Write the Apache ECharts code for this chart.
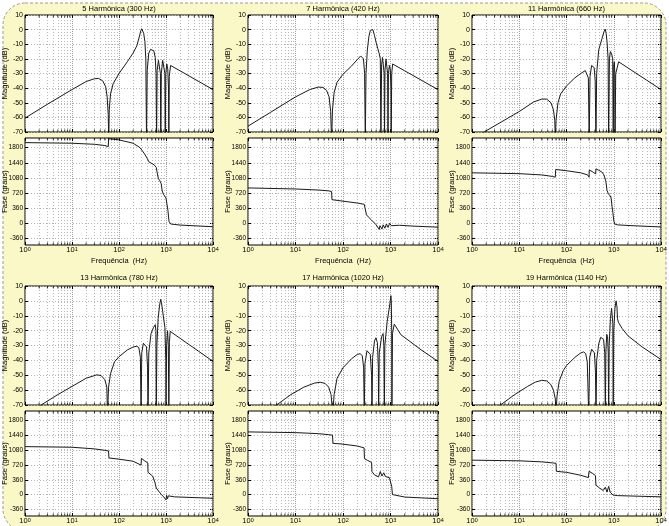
<!DOCTYPE html>
<html><head><meta charset="utf-8">
<script src="https://cdn.jsdelivr.net/npm/echarts@6/dist/echarts.min.js"></script>
<style>html,body{margin:0;padding:0;background:#fff}#c{width:669px;height:526px}</style>
</head><body><div id="c"></div>
<script>
// ---------- DATA ----------
const titles = ['5 Harmônica (300 Hz)','7 Harmônica (420 Hz)','11 Harmônica (660 Hz)',
                '13 Harmônica (780 Hz)','17 Harmônica (1020 Hz)','19 Harmônica (1140 Hz)'];
const decadeTicks = [1,10,100,1000,10000];
const phaseTicks = [-360,0,360,720,1080,1440,1800];
const magTicks = [-70,-60,-50,-40,-30,-20,-10,0,10];

const mag5 = [[1,-60.5],[3,-51],[10,-41],[20,-35.5],[30,-33.6],[37,-33.4],[45,-35],[52,-39],[56,-46],[59,-58],[60.5,-76],[62,-55],[66,-44],[75,-37],[100,-30],[150,-22],[200,-16],[240,-11],[270,-5],[290,-1],[305,0.6],[320,0.3],[335,-2.5],[355,-8],[372,-20],[385,-76],[398,-28],[430,-16],[470,-13.5],[510,-13],[550,-14.5],[590,-19],[615,-30],[630,-76],[648,-28],[690,-21],[730,-22],[760,-30],[775,-76],[795,-30],[850,-21],[900,-22],[945,-30],[965,-76],[990,-30],[1040,-23.5],[1090,-27],[1130,-40],[1150,-76],[1175,-32],[1250,-24.5],[2000,-28.2],[5000,-35.5],[10000,-41]];
const phase5 = [[1,1920],[10,1905],[30,1880],[50,1850],[59,1825],[60.5,2015],[100,1985],[200,1905],[280,1800],[350,1650],[400,1540],[435,1460],[460,1430],[560,1390],[620,1330],[650,1200],[690,1060],[740,1010],[790,940],[830,770],[880,690],[950,660],[1000,600],[1050,450],[1100,300],[1160,40],[1260,-20],[2000,-45],[10000,-85]];

const mag7 = [[1,-66],[3,-56.5],[10,-46],[20,-41],[30,-39.3],[38,-39.5],[45,-41.5],[51,-46],[55,-56],[57.5,-76],[60,-55],[65,-43],[75,-36],[100,-30.5],[150,-25],[200,-20.5],[235,-18],[255,-17.7],[270,-20],[285,-30],[295,-76],[305,-30],[325,-14],[350,-5],[375,-0.5],[400,0.8],[425,0],[460,-4],[500,-9],[540,-13],[580,-16.5],[610,-20],[628,-76],[650,-24],[680,-19],[715,-20],[735,-30],[748,-76],[765,-28],[805,-20],[845,-21],[870,-30],[885,-76],[905,-30],[950,-24.5],[990,-27],[1020,-40],[1035,-76],[1060,-30],[1110,-23.5],[2000,-28.2],[5000,-35.5],[10000,-41]];
const phase7 = [[1,840],[10,815],[30,790],[50,770],[57.5,755],[58.5,560],[100,525],[200,480],[280,450],[305,420],[312,200],[340,150],[395,80],[500,-40],[580,-150],[600,-60],[640,-40],[660,-140],[700,-40],[760,-120],[820,-20],[890,-100],[960,0],[1040,-60],[1120,-35],[1550,-50],[3000,-70],[10000,-95]];

const mag11 = [[1,-75],[1.8,-70],[10,-56],[20,-49.5],[30,-47.5],[38,-47.5],[47,-50],[53,-55],[56.5,-62],[58,-76],[60,-62],[66,-50],[75,-44],[100,-38.5],[150,-33],[200,-30],[250,-28],[275,-28.5],[290,-33],[302,-76],[315,-32],[340,-24.5],[362,-23.3],[385,-26],[405,-35],[420,-76],[435,-30],[480,-14],[520,-10],[565,-6],[620,-1.5],[660,0.3],[690,-2.5],[720,-8],[760,-20],[780,-76],[810,-20],[850,-15],[900,-16.5],[950,-20],[975,-76],[1000,-24],[1030,-22],[1050,-30],[1065,-76],[1100,-30],[1270,-22],[2000,-26.2],[5000,-34.6],[10000,-41]];
const phase11 = [[1,1200],[10,1180],[30,1150],[50,1115],[58,1095],[59,1280],[100,1250],[200,1200],[280,1150],[300,1095],[303,1265],[350,1230],[415,1175],[420,1295],[480,1260],[560,1220],[620,1150],[680,1000],[720,780],[770,700],[840,650],[880,600],[920,400],[960,250],[1000,60],[1050,-20],[1200,-40],[2000,-55],[10000,-90]];

const mag13 = [[1,-78],[2.2,-70],[5,-63],[10,-57.5],[20,-52],[34,-49.7],[42,-50.3],[50,-53],[55,-58],[57,-76],[60,-58],[66,-49],[80,-41],[100,-37.5],[150,-33],[200,-31],[240,-30.5],[265,-31.5],[285,-38],[295,-76],[305,-35],[330,-28.5],[360,-27.5],[385,-31],[405,-45],[415,-76],[430,-35],[480,-22],[540,-18],[590,-16],[610,-20],[620,-76],[640,-30],[680,-12],[730,-3],[770,1],[800,-1],[850,-7],[900,-13],[950,-18],[990,-40],[1000,-76],[1030,-30],[1080,-20],[1120,-30],[1150,-76],[1180,-28],[1230,-20.5],[2000,-25.2],[5000,-34],[10000,-40.7]];
const phase13 = [[1,1165],[10,1150],[30,1110],[50,1075],[60,1060],[61,890],[100,860],[200,810],[295,715],[300,880],[350,820],[410,770],[415,540],[450,500],[520,450],[580,300],[620,160],[700,80],[800,0],[900,-60],[960,-100],[1000,-130],[1030,-20],[1080,-100],[1120,-30],[1180,-60],[1500,-55],[10000,-90]];

const mag17 = [[1,-82],[4,-70],[8,-63],[15,-58],[25,-55.3],[33,-54.7],[42,-55.5],[50,-58],[56,-63],[61,-76],[65,-63],[75,-52],[100,-45],[150,-39],[200,-36],[231,-35.5],[255,-37],[272,-45],[280,-76],[290,-42],[320,-33.5],[346,-32.5],[375,-36],[400,-50],[407,-76],[420,-38],[460,-27],[494,-24.8],[530,-28],[555,-45],[563,-76],[580,-35],[650,-24],[697,-22],[725,-30],[742,-76],[760,-30],[850,-14],[930,-6],[990,0],[1020,3.5],[1040,0],[1060,-20],[1070,-76],[1100,-22],[1200,-15.7],[1400,-19],[1660,-22.8],[2500,-27],[4400,-32.9],[10000,-40.7]];
const phase17 = [[1,1522],[10,1505],[30,1480],[50,1455],[60,1443],[61.5,1245],[100,1225],[200,1180],[278,1135],[283,870],[330,830],[345,800],[400,780],[407,560],[460,480],[560,430],[610,560],[660,450],[720,530],[780,440],[840,430],[950,410],[1000,380],[1060,200],[1100,0],[1200,-40],[2000,-60],[10000,-100]];

const mag19 = [[1,-86],[4,-70],[8,-63],[15,-57.5],[22,-54.6],[30,-53.4],[38,-53.8],[46,-56],[53,-60],[58,-66],[60,-76],[63,-64],[70,-54],[85,-47],[100,-43.5],[150,-38],[200,-35],[231,-34.3],[255,-35.5],[275,-41],[295,-76],[310,-38],[340,-32.5],[363,-32],[390,-35],[410,-48],[421,-76],[435,-40],[480,-29],[530,-24.5],[565,-23.7],[610,-26],[645,-35],[664,-76],[680,-35],[710,-22.5],[740,-24],[765,-35],[780,-76],[800,-30],[850,-12],[900,-5],[930,-5.5],[955,-15],[975,-76],[1000,-20],[1060,-5],[1120,0],[1145,0.5],[1170,-4],[1200,-12],[1260,-14.5],[1500,-18.5],[2000,-23.5],[4000,-31],[10000,-39.4]];
const phase19 = [[1,836],[10,820],[30,795],[50,770],[60,760],[61,566],[100,540],[200,470],[290,412],[300,566],[350,520],[410,460],[420,230],[500,160],[600,100],[640,80],[664,180],[720,60],[780,200],[840,60],[900,40],[960,-10],[1000,-15],[1200,-25],[10000,-55]];

const magSets = [mag5, mag7, mag11, mag13, mag17, mag19];
const phaseSets = [phase5, phase7, phase11, phase13, phase17, phase19];

// ---------- LAYOUT ----------
const FONT = '"Liberation Sans", Arial, sans-serif';
const cols = [{l:25,w:188},{l:248,w:190},{l:472,w:189}];
const rows = [{mt:15,mh:117,pt:138,ph:107,ty:9},{mt:286,mh:119,pt:411,ph:105,ty:278}];
const PH_MIN = -520, PH_MAX = 2030;
const minorF = [];
for (let d = 0; d < 4; d++) for (let k = 2; k <= 9; k++) minorF.push(k * Math.pow(10, d));

const grids = [], xAxes = [], yAxes = [], series = [], graphics = [];
const gridStyle = {color:'#b4b4b4', type:[1,2], width:1};
const txt = {fontFamily: FONT, fontSize: 7.5, color:'#000'};

graphics.push({type:'rect', z:-10, silent:true, shape:{x:3, y:3, width:663, height:528, r:22},
  style:{fill:'#fbf8c8', stroke:'#9a9a9a', lineWidth:1, lineDash:[3,2]}});

function addPlot(left, top, width, height, data, isPhase, xName) {
  const gi = grids.length;
  grids.push({left, top, width, height, show:true, backgroundColor:'#fff', borderColor:'#000', borderWidth:1,
    containLabel:false, outerBoundsMode:'none'});
  const xb = xAxes.length;
  xAxes.push({type:'log', logBase:10, gridIndex:gi, min:1, max:10000, position:'bottom',
    axisLine:{show:false, onZero:false}, axisTick:{inside:true, length:3, lineStyle:{color:'#000'}},
    axisLabel:{show:isPhase, margin:1, formatter: v => '{b|10}{s|' + Math.round(Math.log10(v)) + '}',
      rich:{b:{fontFamily:FONT, fontSize:7.5, lineHeight:8, padding:[4,0,0,0], verticalAlign:'bottom', color:'#000'},
            s:{fontFamily:FONT, fontSize:5.5, lineHeight:6, verticalAlign:'top', color:'#000'}}},
    splitLine:{show:true, lineStyle:{color:'#a0a0a0', type:[1,1], width:1}},
    name: xName, nameLocation:'middle', nameGap:12, nameMoveOverlap:false, nameTextStyle:{...txt}});
  xAxes.push({type:'log', logBase:10, gridIndex:gi, min:1, max:10000, position:'top',
    axisLine:{show:false, onZero:false}, axisTick:{inside:true, length:3, lineStyle:{color:'#000'}},
    axisLabel:{show:false}, splitLine:{show:false}});
  const yl = yAxes.length;
  const name = isPhase ? 'Fase (graus)' : 'Magnitude (dB)';
  const yBase = isPhase
    ? {min:PH_MIN, max:PH_MAX}
    : {min:-70, max:10, interval:10};
  const tickVals = isPhase ? phaseTicks : magTicks;
  yAxes.push(Object.assign({type:'value', gridIndex:gi, position:'left',
    axisLine:{show:false, onZero:false},
    axisTick:{show:true, inside:true, length:3, lineStyle:{color:'#000'}, customValues: tickVals},
    axisLabel:{fontFamily:FONT, color:'#000', fontSize: isPhase ? 6.5 : 7, margin:2, customValues: tickVals, formatter: v => String(Math.round(v))},
    splitLine:{show:true, lineStyle:gridStyle},
    name, nameLocation:'middle', nameGap:16, nameMoveOverlap:false, nameTextStyle:{...txt}}, yBase));
  yAxes.push(Object.assign({type:'value', gridIndex:gi, position:'right',
    axisLine:{show:false, onZero:false},
    axisTick:{show:true, inside:true, length:3, lineStyle:{color:'#000'}, customValues: tickVals},
    axisLabel:{show:false}, splitLine:{show:false}}, yBase));
  series.push({type:'line', xAxisIndex:xb, yAxisIndex:yl, data, symbol:'none', showSymbol:false,
    lineStyle:{color:'#1a1a1a', width:1}, clip:true, animation:false, silent:true, z:5,
    markLine:{silent:true, symbol:['none','none'], animation:false, label:{show:false},
      lineStyle:{color:'#b8b8b8', type:[1,2], width:1},
      data: minorF.map(f => ({xAxis:f}))}});
  const ymax = isPhase ? PH_MAX : 10, ymin = isPhase ? PH_MIN : -70;
  series.push({type:'scatter', xAxisIndex:xb, yAxisIndex:yl, data:minorF.map(f => [f, ymax]),
    symbol:'rect', symbolSize:[1,2.5], symbolOffset:[0,1.25], itemStyle:{color:'#000'}, silent:true, clip:false, animation:false, z:6});
  series.push({type:'scatter', xAxisIndex:xb, yAxisIndex:yl, data:minorF.map(f => [f, ymin]),
    symbol:'rect', symbolSize:[1,2.5], symbolOffset:[0,-1.25], itemStyle:{color:'#000'}, silent:true, clip:false, animation:false, z:6});
}

for (let i = 0; i < 6; i++) {
  const c = cols[i % 3], r = rows[Math.floor(i / 3)];
  graphics.push({type:'text', x: c.l + c.w / 2, y: r.ty, silent:true,
    style:{text: titles[i], fontFamily: FONT, fontSize: 7.5, fill:'#000', textAlign:'center', textVerticalAlign:'middle'}});
  addPlot(c.l, r.mt, c.w, r.mh, magSets[i], false, '');
  addPlot(c.l, r.pt, c.w, r.ph, phaseSets[i], true, 'Frequência  (Hz)');
}

const chart = echarts.init(document.getElementById('c'));
chart.setOption({animation:false, backgroundColor:'#fff', grid:grids, xAxis:xAxes, yAxis:yAxes, series, graphic:graphics});
</script></body></html>
